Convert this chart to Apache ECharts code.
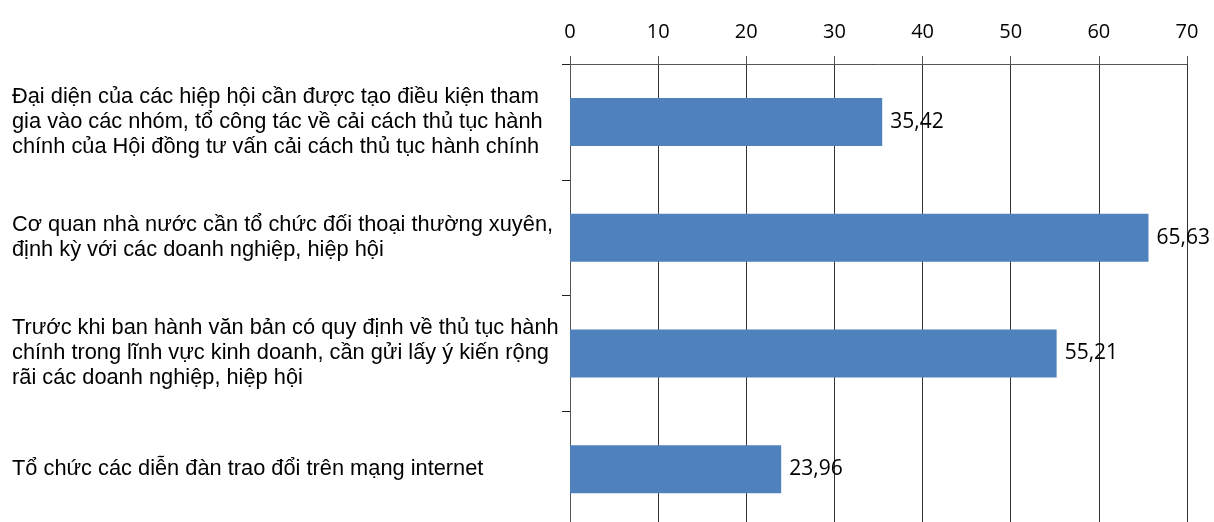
<!DOCTYPE html>
<html>
<head>
<meta charset="utf-8">
<script src="https://cdn.jsdelivr.net/npm/echarts@6/dist/echarts.min.js"></script>
<style>
  html, body { margin: 0; padding: 0; background: #fff; }
  #chart { width: 1214px; height: 522px; }
</style>
</head>
<body>
<div id="chart"></div>
<script>
// categories, top to bottom
var categories = [
  "Đại diện của các hiệp hội cần được tạo điều kiện tham\ngia vào các nhóm, tổ công tác về cải cách thủ tục hành\nchính của Hội đồng tư vấn cải cách thủ tục hành chính",
  "Cơ quan nhà nước cần tổ chức đối thoại thường xuyên,\nđịnh kỳ với các doanh nghiệp, hiệp hội",
  "Trước khi ban hành văn bản có quy định về thủ tục hành\nchính trong lĩnh vực kinh doanh, cần gửi lấy ý kiến rộng\nrãi các doanh nghiệp, hiệp hội",
  "Tổ chức các diễn đàn trao đổi trên mạng internet"
];
var values = [35.42, 65.63, 55.21, 23.96];
var xTicks = [0, 10, 20, 30, 40, 50, 60, 70];

var myChart = echarts.init(document.getElementById("chart"));
myChart.setOption({
  animation: false,
  grid: {
    left: 570,
    width: 617,
    top: 64,
    height: 463,
    containLabel: false,
    outerBoundsMode: "none"
  },
  xAxis: {
    type: "value",
    position: "top",
    min: xTicks[0],
    max: xTicks[xTicks.length - 1],
    interval: 10,
    axisLine: { show: true, lineStyle: { color: "#555", width: 1 } },
    axisTick: { show: true, length: 8, inside: false, lineStyle: { color: "#555" } },
    axisLabel: {
      margin: 22,
      color: "#000",
      fontFamily: "Open Sans",
      fontSize: 20
    },
    splitLine: { show: true, lineStyle: { color: "#333", width: 1 } }
  },
  yAxis: {
    type: "category",
    inverse: true,
    data: categories,
    axisLine: { show: true, lineStyle: { color: "#555", width: 1 } },
    axisTick: { show: true, length: 8, lineStyle: { color: "#222" } },
    axisLabel: {
      align: "left",
      margin: 558,
      color: "#000",
      fontFamily: "Liberation Sans",
      fontSize: 21.8,
      lineHeight: 25
    }
  },
  series: [
    {
      type: "bar",
      data: values,
      barWidth: 48,
      itemStyle: { color: "#4f81bd" },
      label: {
        show: true,
        position: "right",
        distance: 8,
        color: "#000",
        fontFamily: "Open Sans",
        fontSize: 21,
        formatter: function (p) {
          return String(p.value).replace(".", ",");
        }
      }
    }
  ]
});
</script>
</body>
</html>
